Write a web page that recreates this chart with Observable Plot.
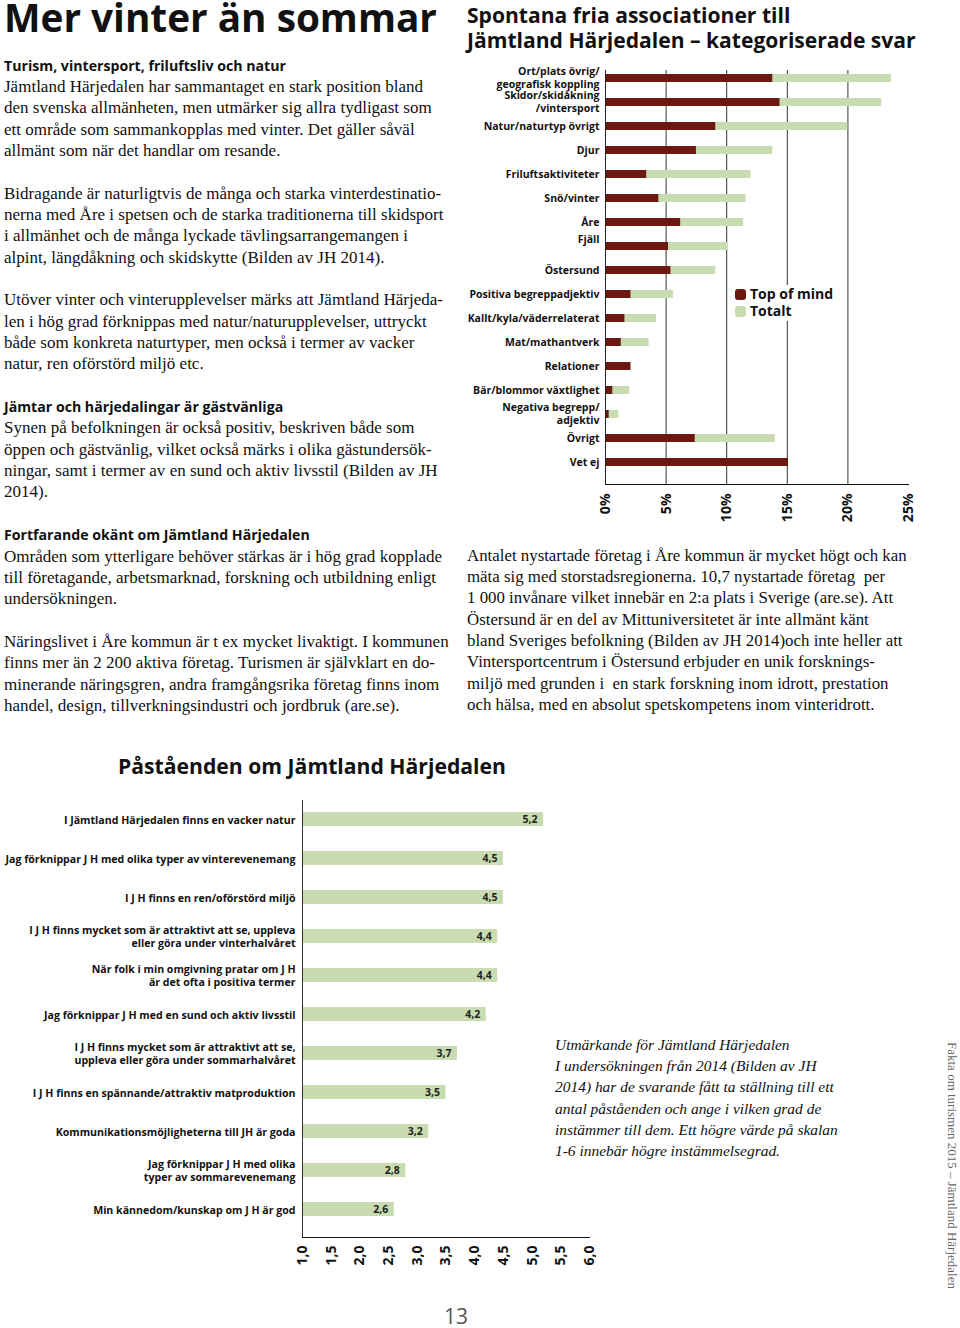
<!DOCTYPE html>
<html><head><meta charset="utf-8">
<script src="https://cdn.jsdelivr.net/npm/d3@7"></script>
<script src="https://cdn.jsdelivr.net/npm/@observablehq/plot@0.6"></script>
<style>
html,body{margin:0;padding:0;background:#fff;}
body{width:960px;height:1328px;position:relative;overflow:hidden;color:#111;}
.abs{position:absolute;}
.serif{font-family:"Liberation Serif","DejaVu Serif",serif;}
.sans{font-family:"Open Sans","Noto Sans",sans-serif;}
.ln{white-space:nowrap;display:block;width:max-content;}
.h{font-weight:700;font-family:"Open Sans","Noto Sans",sans-serif;font-size:14px;}
#leftcol .ln{height:21.35px;line-height:21.35px;}
#rightpara .ln{height:21.35px;line-height:21.35px;}
#caption .ln{height:21.2px;line-height:21.2px;}
svg [aria-label^="x-axis"] text{font-size:14px;font-weight:700;fill:#111;}
.legend{background:#fff;font-family:"Open Sans",sans-serif;font-weight:700;font-size:14px;line-height:17px;color:#111;padding:0 4px 2px 2px;}
.legend .sw{display:inline-block;width:11px;height:11px;border-radius:3px;margin-right:4px;vertical-align:-1px;}
</style></head>
<body>
<div id="title" class="abs sans" style="left:4px;top:-3px;font-weight:700;font-size:40px;line-height:40px;"><span class="ln">Mer vinter än sommar</span></div>

<div id="leftcol" class="abs serif" style="left:4px;top:54.6px;font-size:16px;">
<div class="ln h" id="hRef">Turism, vintersport, friluftsliv och natur</div>
<div class="ln">Jämtland Härjedalen har sammantaget en stark position bland</div>
<div class="ln">den svenska allmänheten, men utmärker sig allra tydligast som</div>
<div class="ln">ett område som sammankopplas med vinter. Det gäller såväl</div>
<div class="ln">allmänt som när det handlar om resande.</div>
<div class="ln"></div>
<div class="ln">Bidragande är naturligtvis de många och starka vinterdestinatio-</div>
<div class="ln" id="leftRef">nerna med Åre i spetsen och de starka traditionerna till skidsport</div>
<div class="ln">i allmänhet och de många lyckade tävlingsarrangemangen i</div>
<div class="ln">alpint, längdåkning och skidskytte (Bilden av JH 2014).</div>
<div class="ln"></div>
<div class="ln">Utöver vinter och vinterupplevelser märks att Jämtland Härjeda-</div>
<div class="ln">len i hög grad förknippas med natur/naturupplevelser, uttryckt</div>
<div class="ln">både som konkreta naturtyper, men också i termer av vacker</div>
<div class="ln">natur, ren oförstörd miljö etc.</div>
<div class="ln"></div>
<div class="ln h">Jämtar och härjedalingar är gästvänliga</div>
<div class="ln">Synen på befolkningen är också positiv, beskriven både som</div>
<div class="ln">öppen och gästvänlig, vilket också märks i olika gästundersök-</div>
<div class="ln">ningar, samt i termer av en sund och aktiv livsstil (Bilden av JH</div>
<div class="ln">2014).</div>
<div class="ln"></div>
<div class="ln h" id="hRef2">Fortfarande okänt om Jämtland Härjedalen</div>
<div class="ln">Områden som ytterligare behöver stärkas är i hög grad kopplade</div>
<div class="ln">till företagande, arbetsmarknad, forskning och utbildning enligt</div>
<div class="ln">undersökningen.</div>
<div class="ln"></div>
<div class="ln">Näringslivet i Åre kommun är t ex mycket livaktigt. I kommunen</div>
<div class="ln">finns mer än 2 200 aktiva företag. Turismen är självklart en do-</div>
<div class="ln">minerande näringsgren, andra framgångsrika företag finns inom</div>
<div class="ln">handel, design, tillverkningsindustri och jordbruk (are.se).</div>
</div>

<div id="t1" class="abs sans" style="left:467px;top:2px;font-weight:700;font-size:20px;line-height:25px;">
<div class="ln">Spontana fria associationer till</div>
<div class="ln" id="t1Ref">Jämtland Härjedalen – kategoriserade svar</div>
</div>

<div id="chart1" class="abs" style="left:460px;top:55px;"></div>
<div class="abs legend" style="left:733px;top:285px;">
<div><span class="sw" style="background:#6b1a12"></span>Top of mind</div>
<div><span class="sw" style="background:#c9dcb1"></span>Totalt</div>
</div>

<div id="rightpara" class="abs serif" style="left:467px;top:544.6px;font-size:16px;">
<div class="ln" id="rpRef">Antalet nystartade företag i Åre kommun är mycket högt och kan</div>
<div class="ln">mäta sig med storstadsregionerna. 10,7 nystartade företag&nbsp; per</div>
<div class="ln">1 000 invånare vilket innebär en 2:a plats i Sverige (are.se). Att</div>
<div class="ln">Östersund är en del av Mittuniversitetet är inte allmänt känt</div>
<div class="ln">bland Sveriges befolkning (Bilden av JH 2014)och inte heller att</div>
<div class="ln">Vintersportcentrum i Östersund erbjuder en unik forsknings-</div>
<div class="ln">miljö med grunden i&nbsp; en stark forskning inom idrott, prestation</div>
<div class="ln">och hälsa, med en absolut spetskompetens inom vinteridrott.</div>
</div>

<div id="t2" class="abs sans" style="left:118px;top:751px;font-weight:700;font-size:21px;line-height:30px;"><span class="ln" id="t2Ref">Påståenden om Jämtland Härjedalen</span></div>

<div id="chart2" class="abs" style="left:0px;top:790px;"></div>

<div id="caption" class="abs serif" style="left:555px;top:1034px;font-size:16px;font-style:italic;">
<div class="ln">Utmärkande för Jämtland Härjedalen</div>
<div class="ln">I undersökningen från 2014 (Bilden av JH</div>
<div class="ln">2014) har de svarande fått ta ställning till ett</div>
<div class="ln">antal påståenden och ange i vilken grad de</div>
<div class="ln" id="capRef">instämmer till dem. Ett högre värde på skalan</div>
<div class="ln">1-6 innebär högre instämmelsegrad.</div>
</div>

<div id="side" class="abs serif" style="left:944px;top:1042px;font-size:13px;color:#666;writing-mode:vertical-rl;white-space:nowrap;">Fakta om turismen 2015 – Jämtland Härjedalen</div>

<div class="abs sans" style="left:444px;top:1305px;font-size:21px;line-height:22px;color:#555;">13</div>

<script>
// ---- Chart 1 data: spontana associationer ----
const assocCategories = [
  "Ort/plats övrig/\ngeografisk koppling",
  "Skidor/skidåkning\n/vintersport",
  "Natur/naturtyp övrigt",
  "Djur",
  "Friluftsaktiviteter",
  "Snö/vinter",
  "Åre",
  "Fjäll\n",
  "Östersund",
  "Positiva begreppadjektiv",
  "Kallt/kyla/väderrelaterat",
  "Mat/mathantverk",
  "Relationer",
  "Bär/blommor växtlighet",
  "Negativa begrepp/\nadjektiv",
  "Övrigt",
  "Vet ej"
];
const topOfMind = [13.8, 14.4, 9.1, 7.5, 3.4, 4.4, 6.2, 5.2, 5.4, 2.1, 1.6, 1.3, 2.1, 0.6, 0.3, 7.4, 15.1];
const totalt    = [23.6, 22.8, 20.0, 13.8, 12.0, 11.6, 11.4, 10.1, 9.1, 5.6, 4.2, 3.6, 2.1, 2.0, 1.1, 14.0, 15.1];
const assocTicks = [0, 5, 10, 15, 20, 25];

// ---- Chart 2 data: påståenden ----
const statements = [
  "I Jämtland Härjedalen finns en vacker natur",
  "Jag förknippar J H med olika typer av vinterevenemang",
  "I J H finns en ren/oförstörd miljö",
  "I J H finns mycket som är attraktivt att se, uppleva\neller göra under vinterhalvåret",
  "När folk i min omgivning pratar om J H\när det ofta i positiva termer",
  "Jag förknippar J H med en sund och aktiv livsstil",
  "I J H finns mycket som är attraktivt att se,\nuppleva eller göra under sommarhalvåret",
  "I J H finns en spännande/attraktiv matproduktion",
  "Kommunikationsmöjligheterna till JH är goda",
  "Jag förknippar J H med olika\ntyper av sommarevenemang",
  "Min kännedom/kunskap om J H är god"
];
const scores = [5.2, 4.5, 4.5, 4.4, 4.4, 4.2, 3.7, 3.5, 3.2, 2.8, 2.6];
const scoreTicks = [1, 1.5, 2, 2.5, 3, 3.5, 4, 4.5, 5, 5.5, 6];

const DARK = "#6b1a12", LIGHT = "#c9dcb1";
const comma = d => d.toFixed(1).replace(".", ",");

const assoc = assocCategories.map((c, i) => ({cat: c, top: topOfMind[i], tot: totalt[i]}));
const stmt = statements.map((s, i) => ({s, v: scores[i]}));

const p1 = Plot.plot({
  width: 470, height: 475,
  marginLeft: 145, marginRight: 22, marginTop: 15, marginBottom: 46,
  style: {fontFamily: "'Open Sans', sans-serif", fontSize: "10px", color: "#111", background: "transparent", overflow: "visible"},
  x: {domain: [0, 25], ticks: assocTicks, tickFormat: d => d + "%", tickRotate: -90, tickSize: 0, tickPadding: 9, label: null, line: true},
  y: {domain: assocCategories, range: [10, 419], paddingInner: 0.67, paddingOuter: 0.335, axis: null},
  marks: [
    Plot.ruleX(assocTicks.filter(d => d > 0 && d < 25), {stroke: "#333", strokeWidth: 1}),
    Plot.barX(assoc, {y: "cat", x1: 0, x2: "tot", fill: LIGHT}),
    Plot.barX(assoc, {y: "cat", x1: 0, x2: "top", fill: DARK}),
    Plot.ruleX([0], {stroke: "#222", strokeWidth: 1}),
    Plot.text(assoc, {y: "cat", frameAnchor: "left", text: "cat", textAnchor: "end", dx: -6, dy: -1, fontWeight: "bold", fontSize: 10.5, fill: "#111", lineHeight: 1.2})
  ]
});
document.getElementById("chart1").appendChild(p1);

const p2 = Plot.plot({
  width: 600, height: 490,
  marginLeft: 302, marginRight: 11, marginTop: 10, marginBottom: 43,
  style: {fontFamily: "'Open Sans', sans-serif", fontSize: "10px", color: "#111", background: "transparent", overflow: "visible"},
  x: {domain: [1, 6], ticks: scoreTicks, tickFormat: comma, tickRotate: -90, tickSize: 0, tickPadding: 8, label: null, line: true},
  y: {domain: statements, range: [7.3, 440.7], paddingInner: 0.645, paddingOuter: 0.3225, axis: null},
  marks: [
    Plot.barX(stmt, {y: "s", x1: 1, x2: "v", fill: LIGHT}),
    Plot.ruleX([1], {stroke: "#333", strokeWidth: 1}),
    Plot.text(stmt, {y: "s", x: "v", text: d => comma(d.v), textAnchor: "end", dx: -6, fontWeight: "bold", fontSize: 10.5, fill: "#222"}),
    Plot.text(stmt, {y: "s", frameAnchor: "left", text: "s", textAnchor: "end", dx: -7, fontWeight: "bold", fontSize: 10.6, fill: "#111", lineHeight: 1.2})
  ]
});
document.getElementById("chart2").appendChild(p2);

// fit text widths to the reference
function fit(container, ref, target, selectorEls) {
  const w = ref.getBoundingClientRect().width;
  if (!w) return;
  const fs = parseFloat(getComputedStyle(ref).fontSize);
  const nf = fs * target / w;
  (selectorEls || [container]).forEach(el => el.style.fontSize = nf + "px");
}
const $ = id => document.getElementById(id);
fit($("leftcol"), $("leftRef"), 440);
fit(null, $("hRef2"), 306, Array.from(document.querySelectorAll(".h")));
fit($("title"), $("title").querySelector(".ln"), 433);
fit($("rightpara"), $("rpRef"), 440);
fit($("caption"), $("capRef"), 283);
fit($("t1"), $("t1Ref"), 449);
fit($("t2"), $("t2Ref"), 388);
</script>
</body></html>
